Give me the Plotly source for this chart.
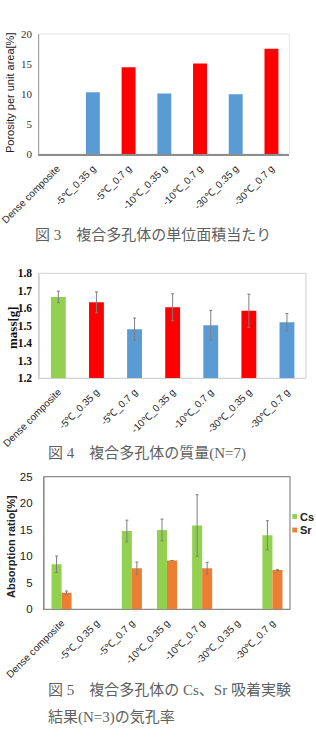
import plotly.graph_objects as go

W, H = 316, 740

categories = ["Dense composite", "-5℃_0.35 g", "-5℃_0.7 g", "-10℃_0.35 g",
              "-10℃_0.7 g", "-30℃_0.35 g", "-30℃_0.7 g"]

# Fig 3: porosity per unit area [%]
porosity = [0, 10.3, 14.45, 10.1, 15.1, 9.95, 17.55]
porosity_colors = ["#5B9BD5", "#5B9BD5", "#FF0000", "#5B9BD5", "#FF0000", "#5B9BD5", "#FF0000"]

# Fig 4: mass [g] (N=7)
mass = [1.665, 1.634, 1.480, 1.606, 1.503, 1.586, 1.520]
mass_err = [0.033, 0.060, 0.064, 0.077, 0.085, 0.095, 0.050]
mass_colors = ["#92D050", "#FF0000", "#5B9BD5", "#FF0000", "#5B9BD5", "#FF0000", "#5B9BD5"]

# Fig 5: absorption ratio [%] (N=3)
cs = [8.5, None, 14.75, 14.95, 15.8, None, 13.95]
cs_err = [1.55, 0, 2.05, 2.05, 5.8, 0, 2.75]
sr = [3.1, None, 7.75, 9.2, 7.75, None, 7.42]
sr_err = [0.35, 0, 1.15, 0, 1.1, 0, 0.05]

C_CS, C_SR = "#92D050", "#ED7D31"

def px_x(x):
    return x / W

def px_y(y):
    return 1 - y / H

fig = go.Figure()

fig.add_trace(go.Bar(x=categories, y=porosity, marker=dict(color=porosity_colors, line=dict(width=0)),
                     width=0.39, xaxis="x", yaxis="y", showlegend=False))
fig.add_trace(go.Bar(x=categories, y=mass, marker=dict(color=mass_colors, line=dict(width=0)),
                     error_y=dict(type="data", array=mass_err, color="#7f7f7f", thickness=1, width=1.5),
                     width=0.39, xaxis="x2", yaxis="y2", showlegend=False))
fig.add_trace(go.Bar(x=categories, y=cs, name="Cs", marker=dict(color=C_CS, line=dict(width=0)),
                     error_y=dict(type="data", array=cs_err, color="#7f7f7f", thickness=1, width=1.5),
                     xaxis="x3", yaxis="y3", showlegend=False))
fig.add_trace(go.Bar(x=categories, y=sr, name="Sr", marker=dict(color=C_SR, line=dict(width=0)),
                     error_y=dict(type="data", array=sr_err, color="#7f7f7f", thickness=1, width=1.5),
                     xaxis="x3", yaxis="y3", showlegend=False))

cat_font = dict(family="Liberation Sans, Arial", size=10, color="#262626")

xcommon = dict(type="category", tickangle=-45, ticks="", showgrid=False, zeroline=False,
               tickfont=cat_font, fixedrange=True, automargin=False, ticklabelstandoff=3)

fig.update_layout(
    width=W, height=H, margin=dict(l=0, r=0, t=0, b=0, autoexpand=False),
    paper_bgcolor="white", plot_bgcolor="white",
    barmode="group", bargap=0.43, bargroupgap=0,
    showlegend=False,
    xaxis=dict(domain=[px_x(39.3), px_x(289.3)], anchor="y", showline=True, linecolor="#8c8c8c",
               linewidth=1.5, **xcommon),
    yaxis=dict(domain=[px_y(154), px_y(34)], anchor="x", range=[0, 20], dtick=5, showgrid=False,
               zeroline=False, showline=True, linecolor="#a6a6a6", linewidth=1, ticks="",
               ticklabelstandoff=4, automargin=False,
               tickfont=dict(family="Liberation Serif, serif", size=11, color="#333333")),
    xaxis2=dict(domain=[px_x(39.3), px_x(306)], anchor="y2", showline=True, linecolor="#d0d0d0",
                linewidth=1, **xcommon),
    yaxis2=dict(domain=[px_y(378.3), px_y(273.3)], anchor="x2", range=[1.2, 1.8], dtick=0.1,
                tickformat=".1f", showgrid=False, zeroline=False, showline=True, linecolor="#d0d0d0",
                linewidth=1, ticks="", ticklabelstandoff=4, automargin=False,
                tickfont=dict(family="Liberation Serif, serif", size=11.5, color="#111111", weight="bold")),
    xaxis3=dict(domain=[px_x(44), px_x(290)], anchor="y3", showline=True, linecolor="#8c8c8c",
                linewidth=1.2, **xcommon),
    yaxis3=dict(domain=[px_y(609.3), px_y(476.7)], anchor="x3", range=[0, 25], dtick=5,
                showgrid=False, zeroline=False, showline=True, linecolor="#8c8c8c", linewidth=1.2,
                ticks="", ticklabelstandoff=8, automargin=False,
                tickfont=dict(family="Liberation Sans, Arial", size=11.5, color="#222222")),
)

# plot frames (top/right borders)
fig.add_shape(type="rect", xref="x domain", yref="y domain", x0=0, x1=1, y0=0, y1=1,
              line=dict(color="#e6e6e6", width=1), layer="below")
fig.add_shape(type="rect", xref="x2 domain", yref="y2 domain", x0=0, x1=1, y0=0, y1=1,
              line=dict(color="#d0d0d0", width=1), layer="below")
fig.add_shape(type="rect", xref="x3 domain", yref="y3 domain", x0=0, x1=1, y0=0, y1=1,
              line=dict(color="#8c8c8c", width=1.2), layer="below")

ann = []
# y-axis titles
ann.append(dict(text="Porosity per unit area[%]", x=px_x(10), y=px_y(93), textangle=-90,
                font=dict(family="Liberation Sans, Arial", size=11, color="#222222")))
ann.append(dict(text="mass[g]", x=px_x(12), y=px_y(328), textangle=-90,
                font=dict(family="Liberation Serif, serif", size=13, color="#111111", weight="bold")))
ann.append(dict(text="Absorption ratio[%]", x=px_x(11), y=px_y(547), textangle=-90,
                font=dict(family="Liberation Sans, Arial", size=11, color="#222222", weight="bold")))

cap_font = dict(family="Liberation Serif, Noto Sans CJK JP", size=15, color="#5f5f5f")
ann.append(dict(text="図 3　複合多孔体の単位面積当たり", x=px_x(33), y=px_y(235), xanchor="left",
                font=cap_font))
ann.append(dict(text="図 4　複合多孔体の質量(N=7)", x=px_x(45.7), y=px_y(452.7), xanchor="left",
                font=cap_font))
ann.append(dict(text="図 5　複合多孔体の Cs、Sr 吸着実験", x=px_x(45.7), y=px_y(689), xanchor="left",
                font=cap_font))
ann.append(dict(text="結果(N=3)の気孔率", x=px_x(45.7), y=px_y(717), xanchor="left",
                font=cap_font))

# legend for Fig 5
leg_font = dict(family="Liberation Sans, Arial", size=11, color="#222222", weight="bold")
for name, col, yc in [("Cs", C_CS, 516.5), ("Sr", C_SR, 530)]:
    fig.add_shape(type="rect", xref="paper", yref="paper", x0=px_x(292.3), x1=px_x(297),
                  y0=px_y(yc + 2.4), y1=px_y(yc - 2.4), fillcolor=col, line=dict(width=0))
    ann.append(dict(text=name, x=px_x(298.3), y=px_y(yc), xanchor="left", font=leg_font))

for a in ann:
    a.setdefault("xref", "paper")
    a.setdefault("yref", "paper")
    a.setdefault("showarrow", False)
    a.setdefault("xanchor", "center")
    a.setdefault("yanchor", "middle")
fig.update_layout(annotations=ann)

fig.write_html("out.html", config={"displayModeBar": False})
